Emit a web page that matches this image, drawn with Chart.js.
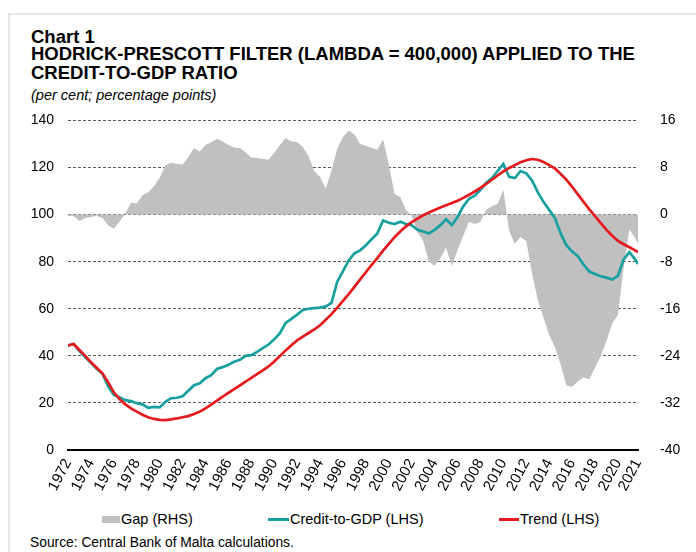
<!DOCTYPE html>
<html>
<head>
<meta charset="utf-8">
<script src="https://cdn.jsdelivr.net/npm/chart.js@4.4.1/dist/chart.umd.min.js"></script>
<style>
  body { margin: 0; background: #fff; font-family: "Liberation Sans", Arial, sans-serif; color: #000; }
  #page { position: relative; width: 696px; height: 552px; overflow: hidden; }
  .frame { position: absolute; left: 8px; top: 13px; width: 720px; height: 600px; border-top: 2px solid #e6e6e6; border-left: 2px solid #e6e6e6; }
  .t { position: absolute; left: 31px; white-space: nowrap; font-weight: bold; font-size: 18.5px; line-height: 18.5px; }
  .sub { position: absolute; left: 31px; top: 88px; white-space: nowrap; font-style: italic; font-size: 14.5px; line-height: 14.5px; }
  #wrap { position: absolute; left: 0; top: 98px; }
  .lg { position: absolute; top: 512px; font-size: 14.5px; line-height: 14.5px; white-space: nowrap; }
  .key { position: absolute; }
  .src { position: absolute; left: 30px; top: 536px; font-size: 13.8px; line-height: 13.8px; white-space: nowrap; }
</style>
</head>
<body>
<div id="page">
  <div class="frame"></div>
  <div class="t" style="top:28px">Chart 1</div>
  <div class="t" style="top:45px">HODRICK-PRESCOTT FILTER (LAMBDA = 400,000) APPLIED TO THE</div>
  <div class="t" style="top:64px">CREDIT-TO-GDP RATIO</div>
  <div class="sub">(per cent; percentage points)</div>

  <div id="wrap"><canvas id="c" width="696" height="402"></canvas></div>

  <div class="key" style="left:102px; top:516px; width:18px; height:7px; background:#c0c0c0"></div>
  <div class="lg" style="left:121px">Gap (RHS)</div>
  <div class="key" style="left:268px; top:518px; width:21px; height:3px; background:#17a0a0"></div>
  <div class="lg" style="left:290px">Credit-to-GDP (LHS)</div>
  <div class="key" style="left:499px; top:518px; width:20px; height:3px; background:#e5191e"></div>
  <div class="lg" style="left:520px">Trend (LHS)</div>

  <div class="src">Source: Central Bank of Malta calculations.</div>
</div>

<script>
// half-yearly observations, 1972 to 2021
const periods = [];
for (let i = 0; i < 100; i++) periods.push(1972 + i * 0.5);
periods.push(2021.75);

// credit-to-GDP gap, percentage points (right axis)
const gap = [
  -0.2, -0.3, -1.1, -0.6, -0.4, -0.2, -0.6, -1.8, -2.4, -1.2, 0.2, 2.0, 1.9, 3.3, 3.8, 4.8, 6.2, 8.4, 8.8, 8.6,
  8.5, 9.8, 11.3, 10.7, 11.8, 12.3, 12.9, 12.4, 11.8, 11.4, 11.3, 10.6, 9.7, 9.6, 9.5, 9.3, 10.5, 11.8, 13.0, 12.4,
  12.3, 11.5, 9.9, 7.4, 6.4, 4.4, 7.5, 11.2, 13.2, 14.3, 13.6, 12.0, 11.7, 11.3, 11.0, 12.8, 8.5, 3.5, 3.0, 0.8,
  -0.3, -3.0, -4.5, -8.0, -8.7, -7.4, -5.6, -8.8, -6.0, -3.6, -1.2, -1.6, -1.2, 0.8, 1.4, 1.8, 4.2, -2.8, -5.0, -3.8,
  -4.5, -10.0, -14.5, -17.5, -20.5, -22.5, -25.5, -29.0, -29.3, -28.3, -27.7, -28.0, -26.0, -24.0, -21.5, -18.5, -17.0, -9.0, -2.5, -4.0,
  -5.0
];

// credit-to-GDP ratio, per cent (left axis)
const credit = [
  44.4, 45.0, 42.0, 39.5, 37.0, 34.5, 32.5, 27.0, 23.4, 22.4, 21.2, 20.8, 19.9, 19.4, 17.9, 18.3, 18.1, 20.5, 22.0, 22.2,
  22.8, 25.2, 27.5, 28.3, 30.5, 31.8, 34.4, 35.2, 36.2, 37.5, 38.3, 40.0, 40.3, 41.7, 43.3, 44.8, 47.0, 49.6, 54.0, 55.7,
  57.5, 59.5, 60.0, 60.3, 60.5, 61.0, 62.5, 71.5, 76.0, 80.5, 83.5, 84.8, 87.0, 89.5, 92.0, 97.5, 96.5, 96.0, 97.0, 96.0,
  95.5, 93.5, 92.8, 92.0, 93.5, 95.5, 98.0, 95.5, 99.0, 103.5, 106.7, 108.0, 110.5, 113.5, 115.5, 118.5, 121.5, 116.0, 115.5, 118.5,
  117.5, 114.5, 109.5, 105.4, 102.0, 98.5, 92.0, 87.0, 84.3, 82.3, 78.8, 75.8, 74.8, 73.8, 73.2, 72.4, 74.0, 81.0, 84.0, 81.0,
  79.0
];

// HP trend, per cent (left axis)
const trend = [
  44.4, 45.0, 42.5, 40.0, 37.3, 34.9, 32.6, 28.8, 24.5, 21.6, 19.4, 17.7, 16.3, 15.0, 13.9, 13.2, 12.8, 12.7, 13.0, 13.4,
  13.9, 14.4, 15.3, 16.3, 17.7, 19.3, 21.0, 22.7, 24.3, 25.9, 27.4, 29.0, 30.6, 32.2, 33.8, 35.5, 37.6, 39.9, 42.3, 44.5,
  46.6, 48.2, 49.7, 51.2, 53.0, 55.3, 57.7, 60.5, 63.3, 66.2, 69.3, 72.5, 75.5, 78.6, 81.5, 84.7, 87.6, 90.4, 92.8, 95.0,
  96.8, 98.3, 99.7, 100.9, 101.9, 103.0, 104.0, 104.9, 105.9, 107.1, 108.4, 109.8, 111.3, 113.0, 114.8, 116.6, 118.3, 119.8, 121.0, 122.2,
  123.1, 123.6, 123.3, 122.3, 121.0, 119.6, 117.3, 114.8, 111.8, 108.6, 105.4, 102.2, 99.3, 96.4, 93.5, 91.0, 88.8, 87.4, 86.1, 84.8,
  84.0
];

// x-axis labels: every second year, plus the final year at the end of the data
const xTicks = [1972, 1974, 1976, 1978, 1980, 1982, 1984, 1986, 1988, 1990, 1992, 1994, 1996,
  1998, 2000, 2002, 2004, 2006, 2008, 2010, 2012, 2014, 2016, 2018, 2020, 2021.75];

function pts(vals) {
  return vals.map((v, i) => ({ x: periods[i], y: v }));
}

Chart.defaults.font.family = '"Liberation Sans", Arial, sans-serif';
Chart.defaults.color = '#000';

new Chart(document.getElementById('c'), {
  type: 'line',
  data: {
    datasets: [
      {
        label: 'Gap (RHS)',
        data: pts(gap),
        yAxisID: 'y1',
        fill: 'origin',
        backgroundColor: '#c0c0c0',
        borderWidth: 0,
        pointRadius: 0,
        order: 3
      },
      {
        label: 'Credit-to-GDP (LHS)',
        data: pts(credit),
        yAxisID: 'y',
        borderColor: '#17a0a0',
        borderWidth: 2.7,
        pointRadius: 0,
        fill: false,
        order: 2
      },
      {
        label: 'Trend (LHS)',
        data: pts(trend),
        yAxisID: 'y',
        borderColor: '#e5191e',
        borderWidth: 2.7,
        pointRadius: 0,
        fill: false,
        order: 1
      }
    ]
  },
  options: {
    responsive: false,
    animation: false,
    layout: { padding: { top: 8, left: 0, right: 0, bottom: 0 } },
    plugins: { legend: { display: false }, tooltip: { enabled: false } },
    scales: {
      x: {
        type: 'linear',
        min: 1972,
        max: 2021.75,
        afterBuildTicks: s => { s.ticks = xTicks.map(v => ({ value: v })); },
        afterFit: s => { s.height = 50; },
        grid: { display: false, drawTicks: false },
        border: { display: true, color: '#000', width: 2 },
        ticks: {
          autoSkip: false,
          minRotation: 62,
          maxRotation: 62,
          padding: 6,
          font: { size: 15 },
          callback: v => (v === 2021.75 ? '2021' : String(v))
        }
      },
      y: {
        position: 'left',
        min: 0,
        max: 140,
        afterFit: s => { s.width = 68; },
        ticks: { stepSize: 20, padding: 14, font: { size: 14 } },
        grid: {
          drawTicks: false,
          lineWidth: 1,
          color: c => (c.tick.value === 0 ? 'rgba(0,0,0,0)' : '#5a5a5a')
        },
        border: { display: false, dash: [3, 2] }
      },
      y1: {
        position: 'right',
        min: -40,
        max: 16,
        afterFit: s => { s.width = 58; },
        ticks: { stepSize: 8, padding: 14, font: { size: 14 } },
        grid: { display: false },
        border: { display: false }
      }
    }
  }
});
</script>
</body>
</html>
